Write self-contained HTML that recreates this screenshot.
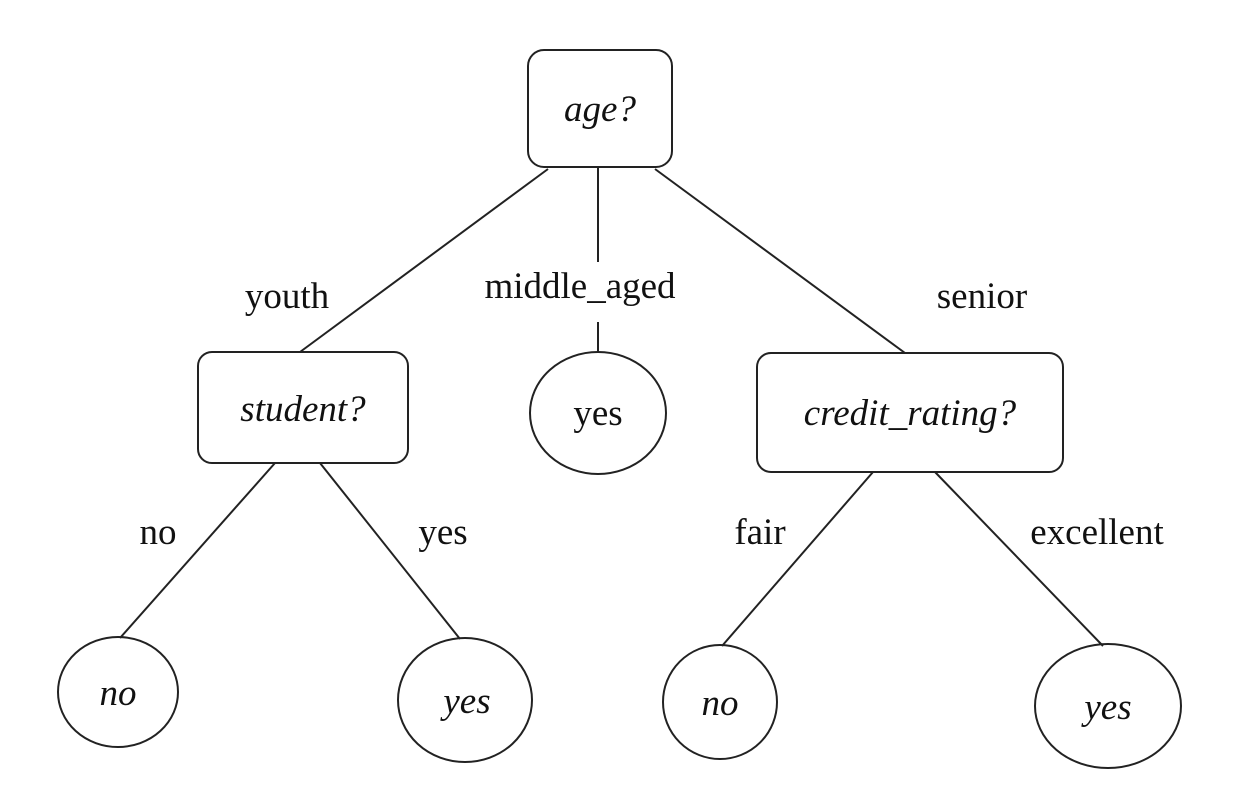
<!DOCTYPE html>
<html><head><style>html,body{margin:0;padding:0;background:#fff}svg{display:block}text{font-family:"Liberation Serif",serif;font-size:37px;fill:#111}</style></head>
<body>
<svg width="1245" height="795" viewBox="0 0 1245 795">
<g stroke="#222" stroke-width="2" fill="none">
<rect x="528" y="50" width="144" height="117" rx="16"/>
<rect x="198" y="352" width="210" height="111" rx="14"/>
<rect x="757" y="353" width="306" height="119" rx="14"/>
<ellipse cx="598" cy="413" rx="68" ry="61"/>
<ellipse cx="118" cy="692" rx="60" ry="55"/>
<ellipse cx="465" cy="700" rx="67" ry="62"/>
<ellipse cx="720" cy="702" rx="57" ry="57"/>
<ellipse cx="1108" cy="706" rx="73" ry="62"/>
<line x1="548" y1="169" x2="300" y2="352"/>
<line x1="598" y1="167" x2="598" y2="262"/>
<line x1="598" y1="322" x2="598" y2="352"/>
<line x1="655" y1="169" x2="905" y2="353"/>
<line x1="275" y1="463" x2="120" y2="638"/>
<line x1="320" y1="463" x2="460" y2="639"/>
<line x1="873" y1="472" x2="722" y2="646"/>
<line x1="935" y1="472" x2="1103" y2="646"/>
</g>
<g text-anchor="middle">
<text x="600" y="121" font-style="italic">age?</text>
<text x="303" y="421" font-style="italic">student?</text>
<text x="910" y="425" font-style="italic">credit_rating?</text>
<text x="598" y="425">yes</text>
<text x="118" y="705" font-style="italic">no</text>
<text x="467" y="713" font-style="italic">yes</text>
<text x="720" y="715" font-style="italic">no</text>
<text x="1108" y="719" font-style="italic">yes</text>
<text x="287" y="308">youth</text>
<text x="580" y="298">middle_aged</text>
<text x="982" y="308">senior</text>
<text x="158" y="544">no</text>
<text x="443" y="544">yes</text>
<text x="760" y="544">fair</text>
<text x="1097" y="544">excellent</text>
</g>
</svg>
</body></html>
